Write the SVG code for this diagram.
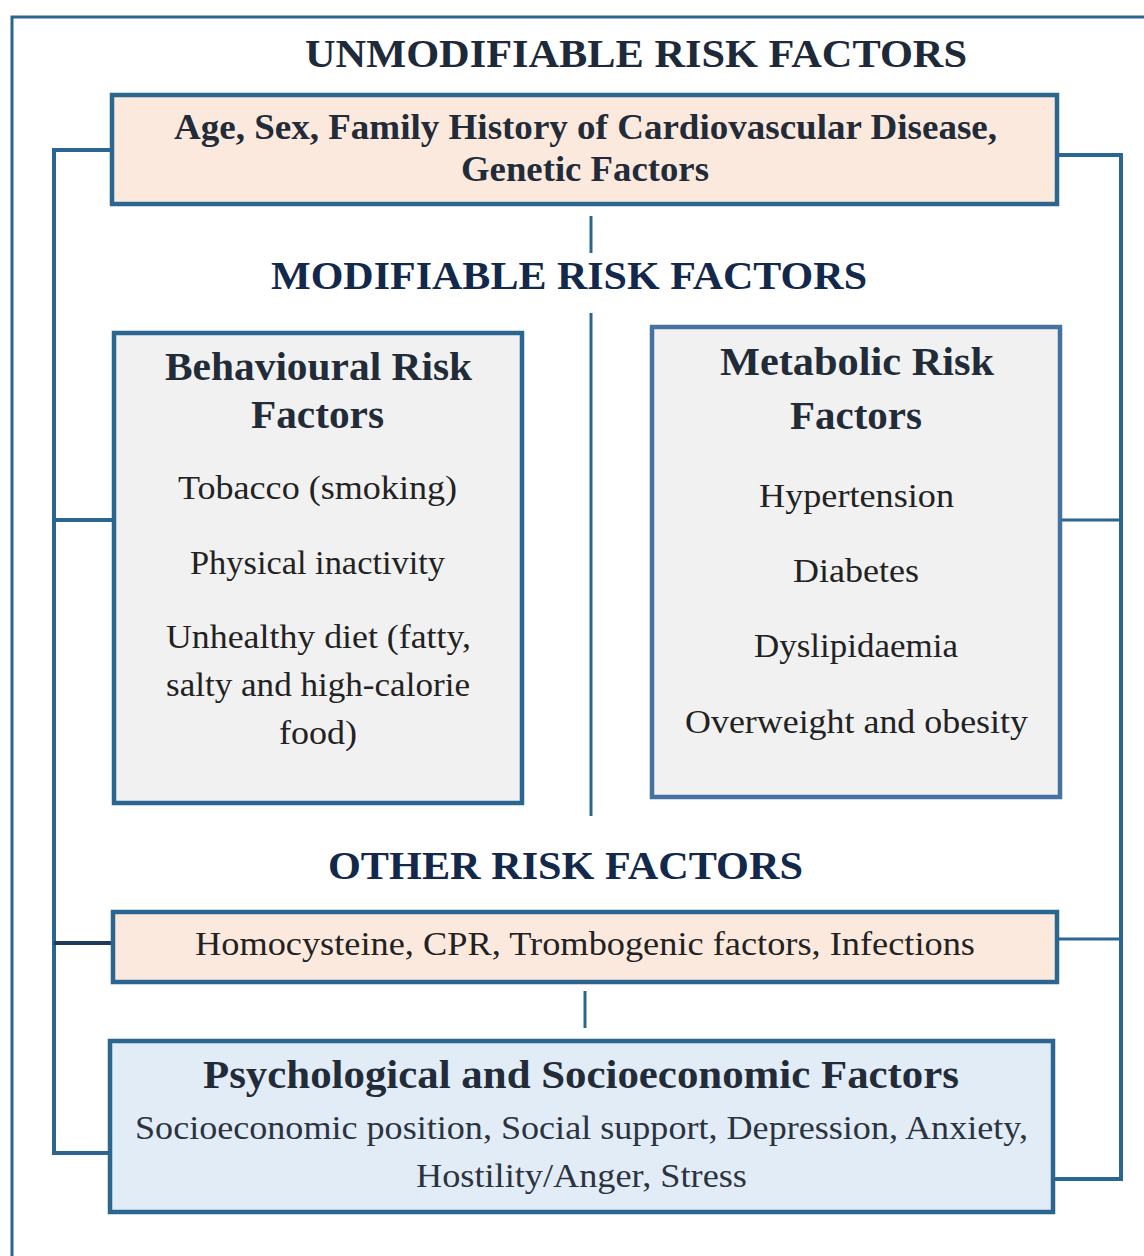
<svg xmlns="http://www.w3.org/2000/svg" width="1144" height="1256" viewBox="0 0 1144 1256">
<style>
  .frame{fill:none;stroke:#2a6690;stroke-width:3}
  .conn{fill:none;stroke:#2a6690;stroke-width:4;stroke-linejoin:miter}
  .thin{fill:none;stroke:#2a6690;stroke-width:3}
  .peach{fill:#fce9de;stroke:#2a6690;stroke-width:4.5}
  .grey{fill:#f1f1f1;stroke:#2a6690;stroke-width:4.5}
  .grey2{fill:#f1f1f1;stroke:#4672a2;stroke-width:4.5}
  .blue{fill:#e2ecf7;stroke:#2a6690;stroke-width:4.5}
  text{font-family:"Liberation Serif","DejaVu Serif",serif;text-anchor:middle}
  .h{font-size:41px;font-weight:bold;fill:#1e2a3a}
  .h2{font-size:41px;font-weight:bold;fill:#13294b}
  .b{font-size:36px;font-weight:bold;fill:#222b38}
  .t{font-size:40px;font-weight:bold;fill:#222b38}
  .r{font-size:34px;fill:#222}
  .rp{font-size:34px;fill:#2b3340}
</style>
<rect width="1144" height="1256" fill="#ffffff"/>
<g id="frame">
  <polyline class="frame" points="12,1256 12,17 1144,17"/>
</g>
<g id="connectors">
  <polyline class="conn" points="111,150 54,150 54,1153 110,1153"/>
  <line class="conn" x1="54" y1="520" x2="113" y2="520"/>
  <line x1="54" y1="943" x2="113" y2="943" stroke="#1f3a5f" stroke-width="4"/>
  <polyline class="conn" points="1057,155 1121,155 1121,1179 1055,1179"/>
  <line class="thin" x1="1061" y1="520" x2="1121" y2="520"/>
  <line class="thin" x1="1057" y1="939" x2="1121" y2="939"/>
  <line class="thin" x1="591" y1="216" x2="591" y2="253"/>
  <line class="thin" x1="591" y1="313" x2="591" y2="816"/>
  <line class="thin" x1="585" y1="991" x2="585" y2="1028"/>
</g>
<g id="heading-unmodifiable">
  <text class="h" x="636" y="67" textLength="662" lengthAdjust="spacingAndGlyphs">UNMODIFIABLE RISK FACTORS</text>
</g>
<g id="node-unmodifiable">
  <rect class="peach" x="112" y="95" width="945" height="109"/>
  <text class="b" x="585.5" y="139" textLength="823" lengthAdjust="spacingAndGlyphs">Age, Sex, Family History of Cardiovascular Disease,</text>
  <text class="b" x="585" y="181" textLength="248" lengthAdjust="spacingAndGlyphs">Genetic Factors</text>
</g>
<g id="heading-modifiable">
  <text class="h2" x="569" y="289" textLength="596" lengthAdjust="spacingAndGlyphs">MODIFIABLE RISK FACTORS</text>
</g>
<g id="node-behavioural">
  <rect class="grey" x="114" y="333" width="408" height="470"/>
  <text class="t" x="318.5" y="380" textLength="307" lengthAdjust="spacingAndGlyphs">Behavioural Risk</text>
  <text class="t" x="317.5" y="428" textLength="133" lengthAdjust="spacingAndGlyphs">Factors</text>
  <text class="r" x="317.5" y="499" textLength="279" lengthAdjust="spacingAndGlyphs">Tobacco (smoking)</text>
  <text class="r" x="317.5" y="574" textLength="255" lengthAdjust="spacingAndGlyphs">Physical inactivity</text>
  <text class="r" x="318.5" y="648" textLength="305" lengthAdjust="spacingAndGlyphs">Unhealthy diet (fatty,</text>
  <text class="r" x="318" y="696" textLength="304" lengthAdjust="spacingAndGlyphs">salty and high-calorie</text>
  <text class="r" x="318" y="744" textLength="78" lengthAdjust="spacingAndGlyphs">food)</text>
</g>
<g id="node-metabolic">
  <rect class="grey2" x="652" y="327" width="408" height="470"/>
  <text class="t" x="857" y="375" textLength="274" lengthAdjust="spacingAndGlyphs">Metabolic Risk</text>
  <text class="t" x="856" y="429" textLength="132" lengthAdjust="spacingAndGlyphs">Factors</text>
  <text class="r" x="856.5" y="507" textLength="195" lengthAdjust="spacingAndGlyphs">Hypertension</text>
  <text class="r" x="856" y="582" textLength="126" lengthAdjust="spacingAndGlyphs">Diabetes</text>
  <text class="r" x="856" y="657" textLength="204" lengthAdjust="spacingAndGlyphs">Dyslipidaemia</text>
  <text class="r" x="856.5" y="733" textLength="343" lengthAdjust="spacingAndGlyphs">Overweight and obesity</text>
</g>
<g id="heading-other">
  <text class="h2" x="565.5" y="879" textLength="475" lengthAdjust="spacingAndGlyphs">OTHER RISK FACTORS</text>
</g>
<g id="node-other">
  <rect class="peach" x="113" y="912" width="944" height="70"/>
  <text class="r" x="585" y="955" textLength="780" lengthAdjust="spacingAndGlyphs">Homocysteine, CPR, Trombogenic factors, Infections</text>
</g>
<g id="node-psych">
  <rect class="blue" x="110" y="1041" width="943" height="171"/>
  <text class="t" x="581" y="1088" textLength="756" lengthAdjust="spacingAndGlyphs">Psychological and Socioeconomic Factors</text>
  <text class="rp" x="581.5" y="1139" textLength="893" lengthAdjust="spacingAndGlyphs">Socioeconomic position, Social support, Depression, Anxiety,</text>
  <text class="rp" x="581.5" y="1187" textLength="331" lengthAdjust="spacingAndGlyphs">Hostility/Anger, Stress</text>
</g>
</svg>
